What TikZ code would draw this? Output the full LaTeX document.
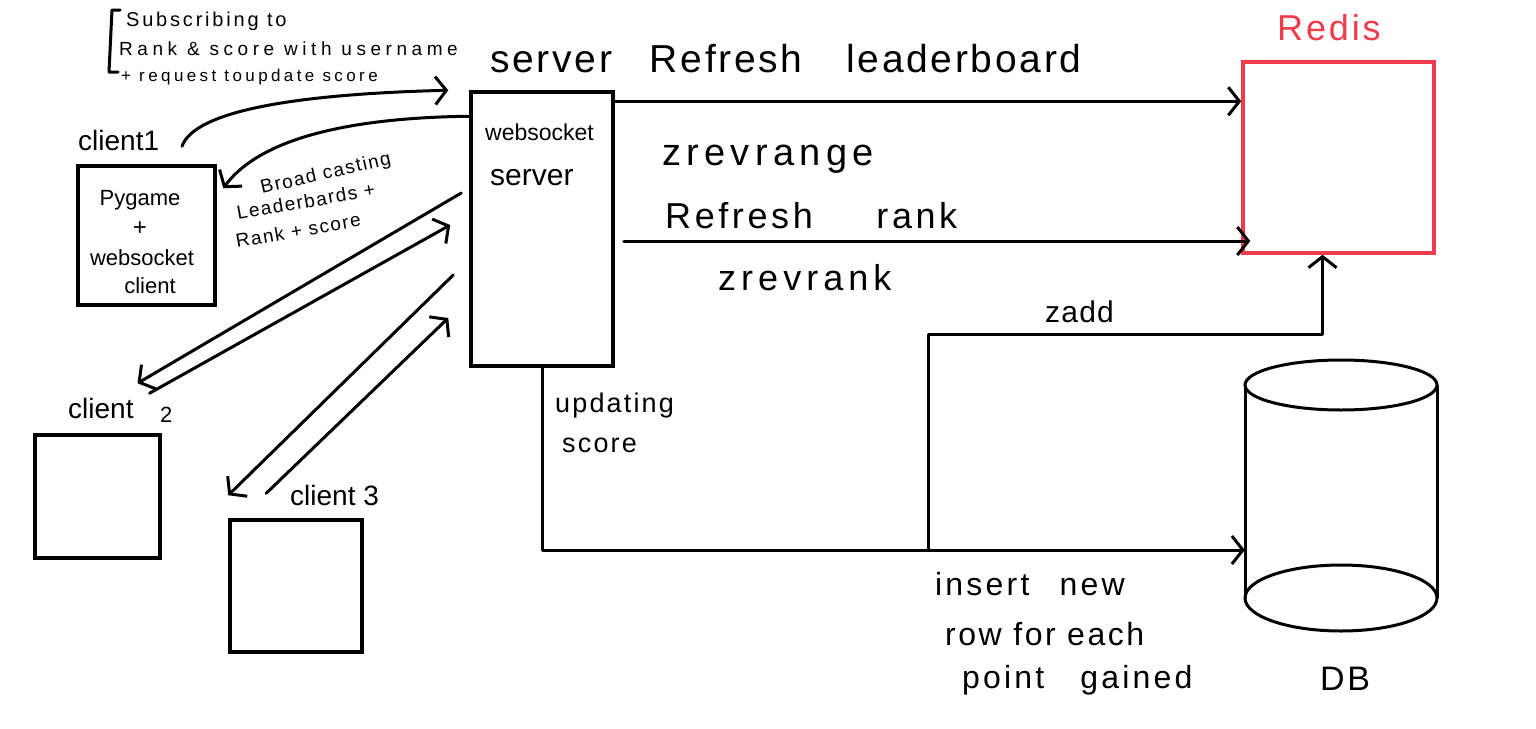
\documentclass[tikz,border=0pt]{standalone}
\usepackage{fontspec}
\setmainfont{Liberation Sans}
\usetikzlibrary{arrows.meta,calc}
\newcommand{\fsz}[2]{\fontsize{#1}{#2}\selectfont}
\begin{document}
\begin{tikzpicture}[x=1pt,y=-1pt,
  ln/.style={line width=3pt,line cap=round,line join=round},
  arr/.style={ln,-{Straight Barb[length=11pt,width=28pt,line width=3pt]}},
  box/.style={draw,line width=3.5pt,inner sep=0pt,rectangle},
  lbl/.style={anchor=base west,inner sep=0pt},
  txt/.style={inner sep=0pt}]
\useasboundingbox (0,0) rectangle (1536,728);
\fill[white] (0,0) rectangle (1536,728);
% nodes
\node[box,minimum width=137pt,minimum height=139pt] (c1) at (146.5,235.5) {};
\node[box,minimum width=142pt,minimum height=274pt] (srv) at (542,229) {};
\node[box,draw={rgb,255:red,240;green,60;blue,75},minimum width=191pt,minimum height=191pt] (redis) at (1338.5,157.5) {};
\node[box,minimum width=125pt,minimum height=123pt] (c2) at (97.5,496.5) {};
\node[box,minimum width=132pt,minimum height=132pt] (c3) at (296,586) {};
\node[inner sep=0pt,minimum width=192pt,minimum height=272pt] (db) at (1341,496) {};
% DB cylinder
\draw[line width=3pt] (1341,385) ellipse [x radius=96, y radius=25];
\draw[line width=3pt] (1341,598) ellipse [x radius=96, y radius=33];
\draw[line width=3pt] (1245,385) -- (1245,598);
\draw[line width=3pt] (1437,385) -- (1437,598);
% texts in boxes
\node[txt,anchor=base] at (140,205) {\fsz{22}{22}Pygame};
\node[txt,anchor=base] at (140,235) {\fsz{24}{24}+};
\node[txt,anchor=base] at (142,265) {\fsz{22}{22}websocket};
\node[txt,anchor=base] at (150,293) {\fsz{22}{22}client};
\node[lbl] at (485,140) {\fsz{23}{23}websocket};
\node[lbl] at (490,185) {\fsz{30}{30}server};
% labels
\node[lbl,text={rgb,255:red,240;green,60;blue,75}] at (1277,40) {\fsz{36}{36}\addfontfeatures{LetterSpace=8}Redis};
\node[lbl] at (1320,690) {\fsz{34}{34}\addfontfeatures{LetterSpace=8}DB};
\node[lbl] at (78,150) {\fsz{28}{28}client1};
\node[lbl] at (68,418) {\fsz{28}{28}client};
\node[lbl] at (160,422) {\fsz{22}{22}2};
\node[lbl] at (290,505) {\fsz{28}{28}client 3};
\node[lbl] at (490,72) {\fsz{39}{39}\addfontfeatures{LetterSpace=7}server\hspace{24pt} Refresh\hspace{30pt} leaderboard};
\node[lbl] at (662,165) {\fsz{38}{38}\addfontfeatures{LetterSpace=14}zrevrange};
\node[lbl] at (665,228) {\fsz{36}{36}\addfontfeatures{LetterSpace=10}Refresh\hspace{50pt} rank};
\node[lbl] at (718,290) {\fsz{36}{36}\addfontfeatures{LetterSpace=14}zrevrank};
\node[lbl] at (1045,322) {\fsz{30}{30}\addfontfeatures{LetterSpace=4}zadd};
\node[lbl] at (555,412) {\fsz{27}{27}\addfontfeatures{LetterSpace=8}updating};
\node[lbl] at (562,452) {\fsz{27}{27}\addfontfeatures{LetterSpace=8}score};
\node[lbl] at (935,595) {\fsz{32}{32}\addfontfeatures{LetterSpace=10}insert\hspace{18pt} new};
\node[lbl] at (945,645) {\fsz{32}{32}\addfontfeatures{LetterSpace=8}row for each};
\node[lbl] at (962,688) {\fsz{32}{32}\addfontfeatures{LetterSpace=10}point\hspace{24pt} gained};
% broadcasting annotation
\node[lbl,rotate=13] at (262,194) {\fsz{19}{19}\addfontfeatures{LetterSpace=8}Broad casting};
\node[lbl,rotate=10] at (238,220) {\fsz{19}{19}\addfontfeatures{LetterSpace=8}Leaderbards +};
\node[lbl,rotate=10] at (237,248) {\fsz{19}{19}\addfontfeatures{LetterSpace=8}Rank + score};
% subscribing annotation
\node[lbl] at (126,27) {\fsz{20}{20}\addfontfeatures{LetterSpace=14}Subscribing to};
\node[lbl] at (119,55) {\fsz{19}{19}\addfontfeatures{LetterSpace=24}Rank \& score with username};
\node[lbl] at (121,81) {\fsz{17}{17}\addfontfeatures{LetterSpace=20}+ request toupdate score};
\draw[ln] (120,10) -- (112,10) -- (109,72) -- (118,72);
% connectors
\draw[arr] ([yshift=-11pt]srv.north east) -- ([yshift=-11pt]srv.north east -| redis.west);
\draw[arr] ([shift={(9pt,-12pt)}]srv.east) -- ([shift={(9pt,-12pt)}]srv.east -| redis.west);
\coordinate (zb) at (928,550);
\coordinate (zt) at (928,334);
\draw[arr] (zb) -- (zt) -| ([xshift=-16pt]redis.south);
\draw[arr] (srv.south) |- (db.west |- zb);
\draw[arr] ([shift={(35.5pt,18pt)}]c1.north) .. controls (195,110) and (300,94) .. ([xshift=-21pt]srv.north west);
\draw[arr] ([yshift=-26pt]srv.north west) .. controls (330,118) and (255,145) .. ([shift={(147pt,-24pt)}]c1.north west);
\draw[arr] ([shift={(-8pt,36pt)}]srv.west) -- ([shift={(40pt,50pt)}]c2.north);
\draw[arr] ([shift={(52pt,40pt)}]c2.north) -- ([shift={(-19pt,4pt)}]srv.west);
\draw[arr] ([shift={(-16pt,-46pt)}]srv.west) -- ([shift={(0pt,23pt)}]c3.north west);
\draw[arr] ([shift={(38pt,25pt)}]c3.north west) -- ([shift={(-21pt,-89pt)}]srv.west);
\end{tikzpicture}
\end{document}
